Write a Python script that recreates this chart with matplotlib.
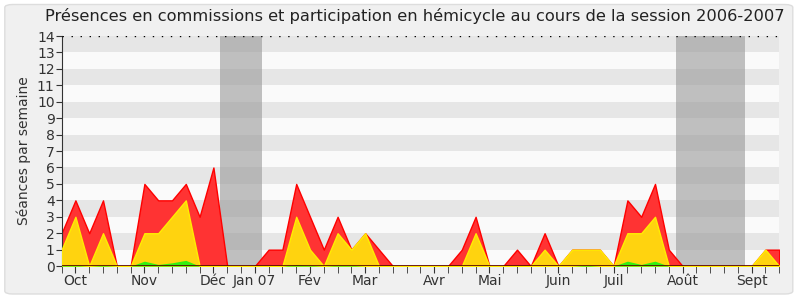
import numpy as np
import matplotlib.pyplot as plt
from matplotlib.patches import FancyBboxPatch

# semaines de la session (0..52)
semaines = np.arange(53)
total = [2, 4, 2, 4, 0, 0, 5, 4, 4, 5, 3, 6, 0, 0, 0, 1, 1, 5, 3, 1,
         3, 1, 2, 1, 0, 0, 0, 0, 0, 1, 3, 0, 0, 1, 0, 2, 0, 1, 1, 1,
         0, 4, 3, 5, 1, 0, 0, 0, 0, 0, 0, 1, 1]
hemicycle = [1, 3, 0, 2, 0, 0, 2, 2, 3, 4, 0, 0, 0, 0, 0, 0, 0, 3, 1, 0,
             2, 1, 2, 0, 0, 0, 0, 0, 0, 0, 2, 0, 0, 0, 0, 1, 0, 1, 1, 1,
             0, 2, 2, 3, 0, 0, 0, 0, 0, 0, 0, 1, 0]
commissions = [0.05, 0.05, 0, 0.05, 0, 0, 0.3, 0.1, 0.2, 0.35, 0, 0, 0, 0, 0, 0, 0, 0.1, 0.05, 0,
               0.05, 0.05, 0, 0, 0, 0, 0, 0, 0, 0, 0, 0, 0, 0, 0, 0, 0, 0, 0.05, 0,
               0, 0.3, 0.1, 0.3, 0, 0, 0, 0, 0, 0, 0, 0, 0]
mois = ["Oct", "Nov", "Déc", "Jan 07", "Fév", "Mar", "Avr", "Mai", "Juin", "Juil", "Août", "Sept"]
mois_pos = [1, 6, 11, 14, 18, 22, 27, 31, 36, 40, 45, 50]
vacances = [(11.5, 14.5), (44.5, 49.5)]

fig = plt.figure(figsize=(8, 3), dpi=100)
fig.patch.set_facecolor("white")
fond = FancyBboxPatch((0.006, 0.02), 0.985, 0.965, boxstyle="round,pad=0,rounding_size=0.01",
                      transform=fig.transFigure, facecolor="#f0f0f0", edgecolor="#dddddd", lw=1, zorder=-10)
fig.patches.append(fond)
ax = fig.add_axes([0.077, 0.113, 0.897, 0.767])
ax.set_facecolor("#fafafa")

# bandes horizontales
for k in range(1, 14, 2):
    ax.axhspan(k, k + 1, color="#e6e6e6", lw=0, zorder=0)
for a, b in vacances:
    ax.axvspan(a, b, color="#999999", alpha=0.6, lw=0, zorder=1)

ax.fill_between(semaines, total, color="#ff3333", edgecolor="#ff0000", lw=1, zorder=2)
ax.fill_between(semaines, hemicycle, color="#ffd30f", edgecolor="#ffee00", lw=1, zorder=3)
ax.fill_between(semaines, commissions, color="#33ee11", lw=0, zorder=4)
ax.axhline(0, color="#550000", lw=1.2, zorder=5)
ax.axhline(14, color="black", lw=1, ls=(0, (1, 5.5)), zorder=5)

ax.set_xlim(0, 52)
ax.set_ylim(0, 14)
ax.set_yticks(range(15))
ax.set_xticks(semaines, minor=True)
ax.set_xticks(mois_pos)
ax.set_xticklabels(mois)
ax.tick_params(axis="x", which="both", length=5, color="#333333", labelsize=10, labelcolor="#333333", pad=1)
ax.tick_params(axis="y", length=4, color="#333333", labelsize=10, labelcolor="#333333", pad=1)
for s in ["top", "right"]:
    ax.spines[s].set_visible(False)
ax.spines["left"].set_color("#333333")
ax.spines["bottom"].set_visible(False)
ax.set_ylabel("Séances par semaine", fontsize=10, color="#333333", labelpad=4)
fig.suptitle("Présences en commissions et participation en hémicycle au cours de la session 2006-2007",
             fontsize=11.7, color="#222222", y=0.975, x=0.518)
fig.savefig("out.png", dpi=100, facecolor=fig.get_facecolor())
